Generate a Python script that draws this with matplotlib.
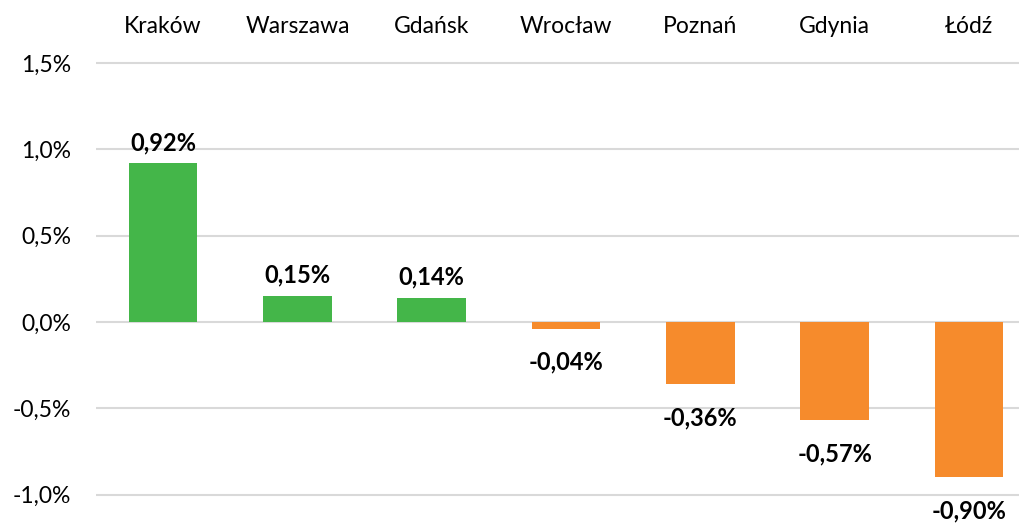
import matplotlib.pyplot as plt
from matplotlib.ticker import FuncFormatter
import numpy as np

plt.rcParams['font.family'] = ['Lato', 'DejaVu Sans']

cities = ['Kraków', 'Warszawa', 'Gdańsk', 'Wrocław', 'Poznań', 'Gdynia', 'Łódź']
change = [0.92, 0.15, 0.14, -0.04, -0.36, -0.57, -0.90]

green = '#44B649'
orange = '#F68B2C'

fig = plt.figure(figsize=(10.2, 5.24), dpi=100)
ax = fig.add_axes([0.0941, 0.0, 0.9216, 0.9223])

x = np.arange(len(cities))
colors = [green if v >= 0 else orange for v in change]
ax.bar(x, change, width=0.51, color=colors, zorder=3)

ax.set_xlim(-0.5, len(cities) - 0.5)
ax.set_ylim(-1.17, 1.63)
ax.set_yticks([-1.0, -0.5, 0.0, 0.5, 1.0, 1.5])
ax.yaxis.set_major_formatter(FuncFormatter(lambda v, p: f"{v:.1f}".replace('.', ',') + '%'))
ax.grid(axis='y', color='#D9D9D9', linewidth=1.5, zorder=0)

ax.xaxis.tick_top()
ax.set_xticks(x)
ax.set_xticklabels(cities)
ax.tick_params(axis='x', length=0, pad=3, labelsize=16.5)
ax.tick_params(axis='y', length=0, pad=18, labelsize=16.5)
for s in ax.spines.values():
    s.set_visible(False)

for xi, v in zip(x, change):
    label = f"{v:.2f}".replace('.', ',') + '%'
    if v >= 0:
        ax.annotate(label, (xi, v), xytext=(0, 15), textcoords='offset points',
                    ha='center', va='center', fontsize=17, fontweight='bold',
                    annotation_clip=False)
    else:
        ax.annotate(label, (xi, v), xytext=(0, -24), textcoords='offset points',
                    ha='center', va='center', fontsize=17, fontweight='bold',
                    annotation_clip=False)

fig.savefig('out.png', dpi=100)
